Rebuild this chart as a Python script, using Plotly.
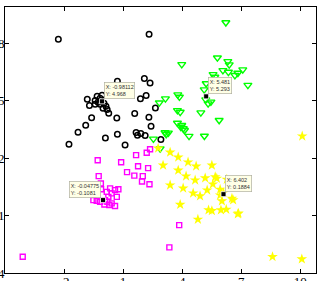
import plotly.graph_objects as go

# ---- data ----
black_x = [-2.29, 2.32, 0.71, 2.08, 2.37, 2.17, 1.88, -0.82, -0.71, -0.42, 2.64, 0.27, -0.60, 0.68,
           1.59, 2.31, -0.90, 2.42, -1.29, 0.71, 0.10, 1.66, 1.90, 1.73, 2.12, -1.75, 1.10, 2.92,
           -0.32, -0.17, -0.07, -0.27, 0.03, 0.13, -0.02, 0.19, -0.42, -0.17]
black_y = [8.22, 8.48, 6.02, 6.17, 5.93, 5.27, 5.11, 5.08, 4.75, 4.82, 4.62, 4.35, 4.11, 4.10,
           4.33, 4.14, 3.72, 3.67, 3.36, 3.25, 3.06, 3.34, 3.29, 3.20, 3.18, 2.73, 2.69, 2.97,
           5.23, 5.13, 5.29, 4.92, 4.87, 4.71, 4.61, 4.55, 5.02, 4.82]

green_x = [6.22, 5.79, 6.32, 6.39, 6.07, 6.35, 6.68, 6.83, 7.08, 5.57, 5.66, 5.22, 5.12, 5.54,
           5.61, 7.34, 3.98, 5.20, 5.46, 5.32, 3.78, 3.86, 2.84, 3.15, 3.90, 4.95, 5.88, 3.76,
           3.98, 3.93, 4.06, 4.12, 3.30, 3.19, 4.35, 2.54, 5.13, 3.76, 2.88, 3.13]
green_y = [9.09, 7.25, 7.06, 6.89, 6.59, 6.50, 6.33, 6.45, 6.63, 6.38, 6.24, 5.90, 5.58, 5.81,
           5.63, 5.82, 6.90, 5.06, 4.94, 4.85, 5.32, 5.20, 4.90, 5.11, 4.41, 4.38, 3.98, 3.84,
           3.72, 3.63, 3.55, 3.46, 3.32, 3.25, 3.15, 3.01, 3.16, 4.50, 2.50, 3.34]

magenta_x = [-0.29, -0.24, -0.13, -4.10, 0.34, 0.59, 0.76, 0.17, 0.42, 0.68, 0.25, 0.08, -0.51,
             -0.34, -0.17, 0.20, 0.42, 0.59, 0.05, 0.30, -0.12, 1.57, 2.00, 1.96, 2.34, 3.85,
             3.35, 1.66, 2.20, 2.37, 0.90, 1.76, 2.27, 1.20]
magenta_y = [1.89, 1.06, 0.68, -3.15, 0.42, 0.33, 0.38, 0.24, 0.16, -0.02, -0.02, -0.19, -0.19,
             -0.23, -0.28, -0.28, -0.36, -0.50, -0.42, -0.45, 0.38, 1.09, 1.06, 0.78, 0.64, -1.50,
             -2.66, 2.16, 2.28, 2.47, 1.79, 1.58, 1.48, 1.27]

yellow_x = [2.78, 3.39, 3.80, 4.30, 4.71, 3.03, 3.80, 4.20, 4.66, 3.39, 4.05, 4.56, 5.17, 5.27,
            4.91, 3.90, 4.80, 5.34, 5.51, 5.97, 6.24, 6.02, 6.59, 6.83, 5.93, 6.10, 5.93, 6.53,
            5.51, 5.68, 5.76, 5.56, 6.27, 6.86, 8.59, 10.08, 10.10]
yellow_y = [2.52, 2.31, 2.05, 1.79, 1.58, 1.63, 1.37, 1.06, 0.85, 0.59, 0.43, 0.17, 0.96, 0.33,
            0.02, -0.42, -1.20, -0.71, -0.75, -0.71, -0.68, -0.24, -0.19, -0.92, 0.37, 0.19, 0.07,
            -0.10, 1.63, 1.02, 0.94, 0.64, 0.89, -0.88, -3.15, -3.27, 3.15]

# data tips: plotted location and displayed text
tip_x = [-0.07, 5.22, -0.02, 6.10]
tip_y = [4.97, 5.23, -0.19, 0.12]
tip_text = ["X: -0.98112<br>Y: 4.968", "X: 5.481<br>Y: 5.293",
            "X: -0.04775<br>Y: -0.1081", "X: 6.402<br>Y: 0.1884"]
tip_side = ["right", "right", "left", "right"]

x_ticks = [-5, -2, 1, 4, 7, 10]
y_ticks = [-4, -1, 2, 5, 8]

fig = go.Figure()
fig.add_trace(go.Scatter(x=black_x, y=black_y, mode="markers",
                         marker=dict(symbol="circle-open", size=5.5, color="black",
                                     line=dict(width=1.5, color="black"))))
fig.add_trace(go.Scatter(x=green_x, y=green_y, mode="markers",
                         marker=dict(symbol="triangle-down-open", size=7, color="#00ff00",
                                     line=dict(width=1.4, color="#00ff00"))))
fig.add_trace(go.Scatter(x=magenta_x, y=magenta_y, mode="markers",
                         marker=dict(symbol="square-open", size=5, color="#ff00ff",
                                     line=dict(width=1.4, color="#ff00ff"))))
fig.add_trace(go.Scatter(x=yellow_x, y=yellow_y, mode="markers",
                         marker=dict(symbol="star", size=8, color="#ffff00",
                                     line=dict(width=0))))
fig.add_trace(go.Scatter(x=tip_x, y=tip_y, mode="markers",
                         marker=dict(symbol="square", size=5, color="black",
                                     line=dict(width=0.8, color="white"))))

for x, y, t, s in zip(tip_x, tip_y, tip_text, tip_side):
    fig.add_annotation(x=x, y=y, text=t, showarrow=False,
                       xanchor="left" if s == "right" else "right", yanchor="bottom",
                       xshift=2 if s == "right" else -2, yshift=2,
                       align="left", font=dict(size=5.5, family="Liberation Sans", color="#333333"),
                       bgcolor="#ffffe6", bordercolor="#b0b0a0", borderwidth=0.7, borderpad=1)

axis_common = dict(showgrid=False, zeroline=False, showline=True, linecolor="black",
                   linewidth=1, mirror="ticks", ticks="inside", ticklen=4, tickwidth=1,
                   tickcolor="black", automargin=False,
                   tickfont=dict(family="Liberation Serif", size=13, color="black"))
fig.update_xaxes(range=[-5, 10.8], tickvals=x_ticks, ticktext=[str(v) for v in x_ticks],
                 ticklabelstandoff=-4, **axis_common)
fig.update_yaxes(range=[-4, 9.9], tickvals=y_ticks, ticktext=[str(v) for v in y_ticks],
                 ticklabelstandoff=-3, **axis_common)
fig.update_layout(width=323, height=281, showlegend=False,
                  margin=dict(l=5, r=7, t=7, b=8),
                  plot_bgcolor="white", paper_bgcolor="white")
fig.write_html("out.html")
